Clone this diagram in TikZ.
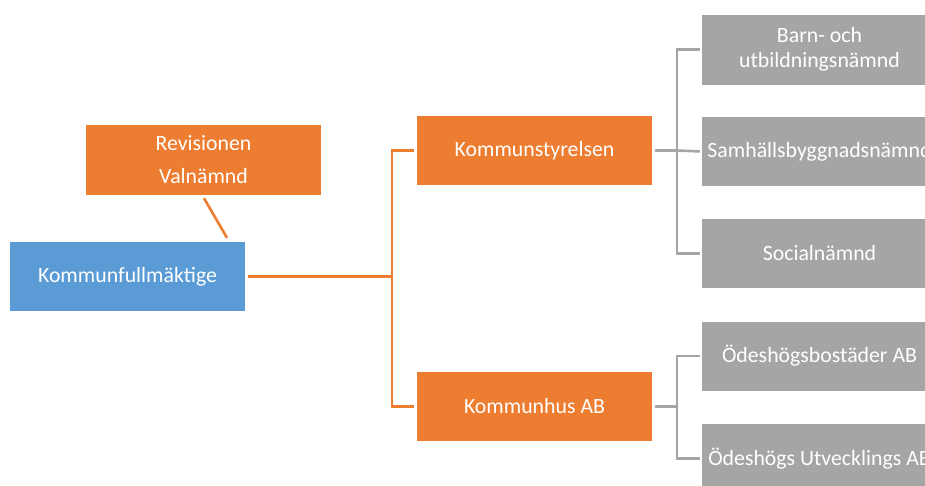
\documentclass[tikz,border=0pt]{standalone}
\usepackage{fontspec}
\setmainfont{Carlito}
\usetikzlibrary{calc}
\definecolor{orgbox}{HTML}{ED7D31}
\definecolor{bluebox}{HTML}{5B9BD5}
\definecolor{graybox}{HTML}{A5A5A5}
\tikzset{
  box/.style={minimum width=235pt, minimum height=69pt, inner sep=0pt, text=white,
    align=center, font=\fontsize{21.8}{25}\selectfont},
  obox/.style={box, fill=orgbox},
  bbox/.style={box, fill=bluebox},
  gbox/.style={box, fill=graybox},
  oline/.style={draw=orgbox, line width=2.6pt},
  gline/.style={draw=graybox, line width=2.6pt},
}
\begin{document}
\begin{tikzpicture}[x=1pt,y=-1pt]
\useasboundingbox (0,0) rectangle (925,485);
\clip (0,0) rectangle (925,485);
\node[obox, minimum height=70pt, font=\fontsize{21.8}{33}\selectfont] (rev) at (203.5,160) {Revisionen\\Valnämnd};
\node[bbox] (kf) at (127.5,276.5) {Kommunfullmäktige};
\node[obox] (ks) at (534.5,150.5) {Kommunstyrelsen};
\node[obox] (kh) at (534.5,406.5) {Kommunhus AB};
\node[gbox, minimum height=70pt] (g1) at (819.5,49.5) {Barn- och\\utbildningsnämnd};
\node[gbox] (g2) at (819.5,151.5) {Samhällsbyggnadsnämnd};
\node[gbox] (g3) at (819.5,253.5) {Socialnämnd};
\node[gbox] (g4) at (819.5,356) {Ödeshögsbostäder AB};
\node[gbox] (g5) at (819.5,458.5) {Ödeshögs Utvecklings AB};
\coordinate (t) at (392,276.5);
\coordinate (b1) at (677,150.5);
\coordinate (b2) at (677,406.5);
% connectors
\draw[oline] ($(rev.south)+(0.5,3)$) -- ($(kf.north)+(99.5,-4)$);
\draw[oline, shorten <=3pt] (kf.east) -- (t);
\draw[oline, shorten <=3pt, shorten >=3pt] (ks.west) -| (t) |- (kh.west);
\draw[gline, shorten <=3pt] (ks.east) -- (b1);
\draw[gline, shorten <=2pt, shorten >=2pt] (g1.west) -| (b1) |- (g3.west);
\draw[gline, shorten >=2pt] (b1) -- (g2.west);
\draw[gline, shorten <=3pt] (kh.east) -- (b2);
\draw[gline, shorten <=2pt, shorten >=2pt] (g4.west) -| (b2) |- (g5.west);
\end{tikzpicture}
\end{document}
